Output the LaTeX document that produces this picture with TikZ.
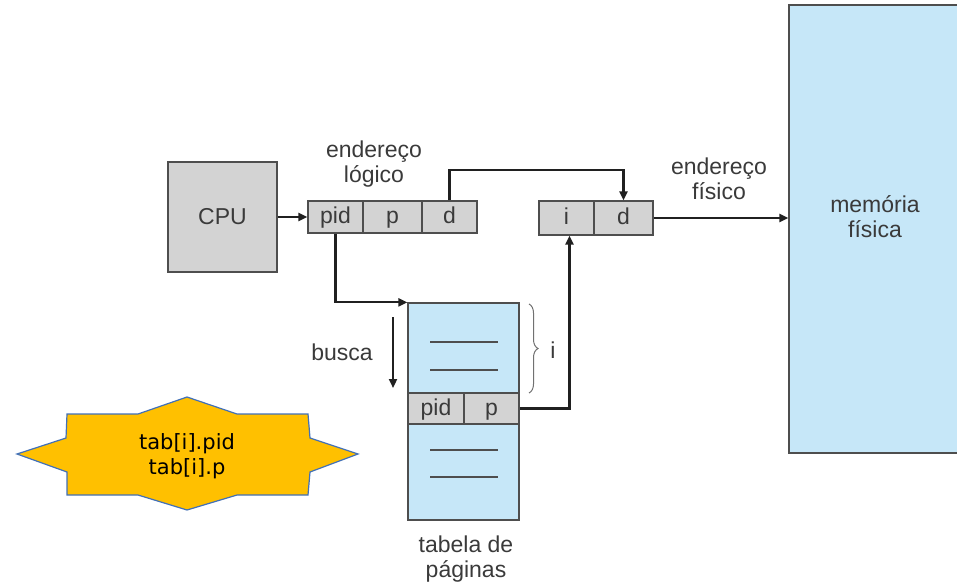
\documentclass[tikz,border=0pt]{standalone}
\usepackage{fontspec}
\setmainfont{Liberation Sans}
\newfontfamily\starfont{DejaVu Sans}
\usetikzlibrary{arrows.meta,decorations.pathreplacing}

\definecolor{cellgray}{HTML}{D3D3D3}
\definecolor{memblue}{HTML}{C6E7F8}
\definecolor{edge}{HTML}{4E4E4E}
\definecolor{ink}{HTML}{3A3A3A}
\definecolor{wire}{HTML}{202020}
\definecolor{starfill}{HTML}{FFC000}
\definecolor{starline}{HTML}{4170B8}

\begin{document}
\begin{tikzpicture}[x=1pt,y=-1pt,
  lbl/.style={font=\fontsize{23}{25}\selectfont, text=ink, align=center, inner sep=0pt},
  cell/.style={draw=edge, line width=1.3pt, fill=cellgray, inner sep=0pt,
    font=\fontsize{23}{25}\selectfont, text=ink, text height=17pt, text depth=4pt},
  block/.style={draw=edge, line width=1.3pt, inner sep=0pt},
  link/.style={draw=wire, line width=2.2pt, -{Triangle[length=9pt,width=8pt]}},
  rule/.style={draw=edge, line width=1.3pt}
]
\useasboundingbox (0,0) rectangle (957,582);

% CPU
\node[block, fill=cellgray, minimum width=109pt, minimum height=110pt,
  font=\fontsize{23}{25}\selectfont, text=ink] (cpu) at (222.5,217) {CPU};

% logical address register
\node[cell, minimum width=55pt, minimum height=32pt] (lpid) at (335.5,217) {pid};
\node[cell, minimum width=59pt, minimum height=32pt] (lp) at (392.5,217) {p};
\node[cell, minimum width=55pt, minimum height=32pt] (ld) at (449.5,217) {d};
\node[lbl] (llab) at (374,164) {endereço\\lógico};

% physical address register
\node[cell, minimum width=55pt, minimum height=34pt] (pi) at (566.5,218) {i};
\node[cell, minimum width=59pt, minimum height=34pt] (pd) at (623.5,218) {d};
\node[lbl] (plab) at (719,179) {endereço\\físico};

% physical memory
\node[block, fill=memblue, minimum width=173pt, minimum height=448pt] (mem) at (875.5,229) {};
\node[lbl] (memlab) at (875,217) {memória\\física};

% page table
\node[block, fill=memblue, minimum width=111pt, minimum height=217pt] (pt) at (463.5,411.5) {};
\draw[rule] (430,342) -- (498,342);
\draw[rule] (430,370) -- (498,370);
\draw[rule] (430,450) -- (498,450);
\draw[rule] (430,477) -- (498,477);
\node[cell, minimum width=56pt, minimum height=31pt] (tpid) at (436,408.5) {pid};
\node[cell, minimum width=55pt, minimum height=31pt] (tp) at (491.5,408.5) {p};
\node[lbl] (ptlab) at (466,559) {tabela de\\páginas};

% search direction
\coordinate (bs) at (393,317);
\coordinate (be) at (393,388);
\draw[link] (bs) -- (be);
\node[lbl, anchor=base] (busca) at (342,360) {busca};

% brace over the entries before the match
\coordinate (bt) at (529,304);
\coordinate (bb) at (529,393);
\draw[draw=edge!80, line width=1pt, decorate, decoration={brace, amplitude=9pt}] (bt) -- (bb);
\node[lbl] (ilab) at (553,350) {i};

% connectors
\draw[link] (cpu.east) -- (lpid.west);
\draw[link] (ld.north) -- ++(0,-30) -| (pd.north);
\draw[link] (pd.east) -- (mem.west |- pd.east);
\draw[link] (lpid.south) |- (pt.north west);
\draw[link] (tp.east) -| ([xshift=3pt]pi.south);

% callout star with the lookup fields
\draw[fill=starfill, draw=starline, line width=1.2pt]
  (17,454) -- (66,438) -- (67,414) -- (138,414) -- (187,397) -- (237,414)
  -- (308,414) -- (310,438) -- (358,454) -- (310,472) -- (308,495)
  -- (237,495) -- (187,510) -- (138,495) -- (67,495) -- (67,472) -- cycle;
\node[font=\starfont\fontsize{21}{25}\selectfont, align=center, inner sep=0pt] (tab) at (187,456) {tab[i].pid\\tab[i].p};
\end{tikzpicture}
\end{document}
